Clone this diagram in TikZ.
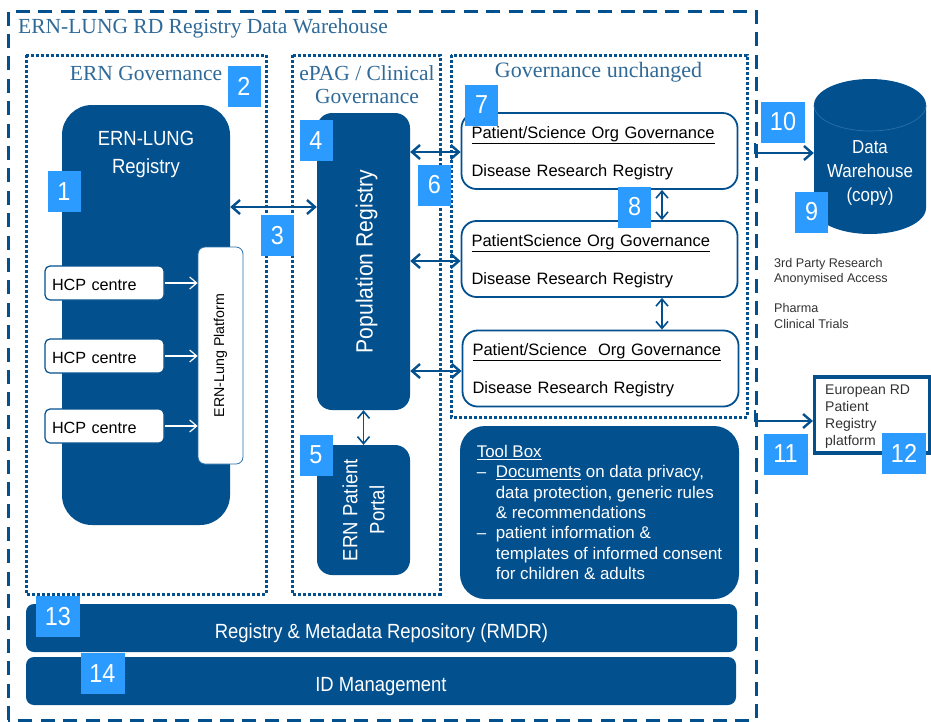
\documentclass[tikz,border=0pt]{standalone}
\usepackage{fontspec}
\setmainfont{Liberation Sans}
\newfontfamily\titlefont{Liberation Serif}
\newfontfamily\condfont[FakeStretch=0.9]{Liberation Sans}
\usepackage{tikz}
\usetikzlibrary{arrows.meta}
\definecolor{ernblue}{HTML}{03508F}
\definecolor{ernline}{HTML}{2A6FA8}
\definecolor{erntitle}{HTML}{2F6A98}
\definecolor{badgeblue}{HTML}{2B9BFF}
\definecolor{notegray}{HTML}{333333}
\tikzset{
  regbox/.style={fill=ernblue,text=white,inner sep=0pt,align=center},
  hcpbox/.style={draw=ernblue,line width=1.2pt,fill=white,rounded corners=5pt,minimum width=119pt,minimum height=34pt,inner sep=0pt,text width=105pt,execute at begin node=\rule{0pt}{15pt},font=\fontsize{16.2}{18}\selectfont},
  scibox/.style={draw=ernblue,line width=1.8pt,fill=white,rounded corners=15pt,minimum width=276pt,minimum height=76pt,inner sep=0pt,align=left,text width=256pt,execute at begin node=\rule{0pt}{16pt},font=\fontsize{16.5}{38}\selectfont},
  barbox/.style={regbox,rounded corners=8pt,minimum height=48pt,font=\condfont\fontsize{20.5}{22}\selectfont},
  badge/.style={fill=badgeblue,text=white,minimum width=33pt,minimum height=41pt,inner sep=0pt,font=\condfont\fontsize{26}{28}\selectfont},
  widebadge/.style={badge,minimum width=44pt},
  govtitle/.style={text=erntitle,inner sep=0pt,align=center,font=\titlefont\fontsize{21.5}{23}\selectfont},
  govframe/.style={draw=ernblue,line width=3pt,dash pattern=on 3pt off 2pt},
  linkarrow/.style={draw=ernblue,line width=2.4pt,{Straight Barb[length=8pt,width=14pt]}-{Straight Barb[length=8pt,width=14pt]}},
  thinarrow/.style={draw=ernblue,line width=1.6pt,{Straight Barb[length=7pt,width=12pt]}-{Straight Barb[length=7pt,width=12pt]}},
  outarrow/.style={draw=ernblue,line width=2.4pt,-{Straight Barb[length=8pt,width=14pt]}},
  hcparrow/.style={draw=white,line width=1.2pt,-{Straight Barb[length=7pt,width=12pt]}}
}
\begin{document}
\begin{tikzpicture}[x=1pt,y=-1pt]
\useasboundingbox (0,0) rectangle (931,721);
\fill[white] (0,0) rectangle (931,721);

\draw[ernblue,line width=3pt,dash pattern=on 14pt off 8.4pt] (8,720) -- (8,11) -- (756,11) -- (756,720) -- cycle;
\draw[govframe] (26,55) rectangle (266,594);
\draw[govframe] (292,55) rectangle (440,594);
\draw[govframe] (451,55) rectangle (747,417);

\node[govtitle,anchor=west] (warehousetitle) at (18,28) {ERN-LUNG RD Registry Data Warehouse};
\node[govtitle] (erngov) at (146,73) {ERN Governance};
\node[govtitle] (epaggov) at (367,84.5) {ePAG / Clinical\\Governance};
\node[govtitle,font=\titlefont\fontsize{22}{24}\selectfont] (ungov) at (598.5,72) {Governance unchanged};

\node[regbox,rounded corners=30pt,minimum width=168pt,minimum height=420pt] (ernlung) at (146,315) {};
\node[text=white,align=center,inner sep=0pt,font=\condfont\fontsize{20.5}{28}\selectfont] (ernlunglabel) at (146,154) {ERN-LUNG\\Registry};
\node[draw=ernline,line width=0.8pt,fill=white,rounded corners=7pt,minimum width=45pt,minimum height=217pt,inner sep=0pt] (platform) at (220.5,355.5) {\rotatebox{90}{\fontsize{14.2}{16}\selectfont ERN-Lung Platform}};
\node[hcpbox] (hcpa) at (104.5,283) {HCP centre};
\node[hcpbox] (hcpb) at (104.5,356) {HCP centre};
\node[hcpbox] (hcpc) at (104.5,426) {HCP centre};
\draw[hcparrow] (hcpa.east) -- (platform.west |- hcpa.east);
\draw[hcparrow] (hcpb.east) -- (platform.west |- hcpb.east);
\draw[hcparrow] (hcpc.east) -- (platform.west |- hcpc.east);

\node[regbox,rounded corners=15pt,minimum width=93pt,minimum height=297pt] (population) at (363.5,261.5) {\hspace*{6pt}\rotatebox{90}{\condfont\fontsize{23.5}{26}\selectfont Population Registry}};
\node[regbox,rounded corners=15pt,minimum width=93pt,minimum height=130pt] (portal) at (363.5,510) {\rotatebox{90}{\parbox{120pt}{\centering\condfont\fontsize{20.6}{27}\selectfont ERN Patient\\Portal}}};
\draw[thinarrow] (portal.north) -- (population.south);
\draw[linkarrow] (ernlung.east |- 0,207) -- (population.west |- 0,207);

\node[scibox] (scia) at (599.5,151) {\underline{Patient/Science Org Governance}\\Disease Research Registry};
\node[scibox] (scib) at (599.5,259) {\underline{PatientScience Org Governance}\\Disease Research Registry};
\node[scibox] (scic) at (600.5,368.5) {\underline{Patient/Science\ \ Org Governance}\\Disease Research Registry};
\draw[linkarrow] (population.east |- 0,152) -- (scia.west |- 0,152);
\draw[linkarrow] (population.east |- 0,261) -- (scib.west |- 0,261);
\draw[linkarrow] (population.east |- 0,371) -- (scic.west |- 0,371);
\draw[thinarrow] (662,0 |- scia.south) -- (662,0 |- scib.north);
\draw[thinarrow] (662,0 |- scib.south) -- (662,0 |- scic.north);

\node[regbox,rounded corners=25pt,minimum width=279pt,minimum height=173pt,align=left,execute at begin node=\rule{0pt}{16pt},font=\fontsize{16.9}{20.4}\selectfont] (toolbox) at (599.5,512.5) {\underline{Tool Box}\\
\makebox[19pt][l]{--}\underline{Documents} on data privacy,\\
\hspace*{19pt}data protection, generic rules\\
\hspace*{19pt}\& recommendations\\
\makebox[19pt][l]{--}patient information \&\\
\hspace*{19pt}templates of informed consent\hspace*{8pt}\\
\hspace*{19pt}for children \& adults};

\node[barbox,minimum width=711pt] (rmdr) at (381.5,628) {\smash{\raisebox{-10pt}{Registry \& Metadata Repository (RMDR)}}};
\node[barbox,minimum width=710pt] (idmgmt) at (381,681) {\smash{\raisebox{-10pt}{ID Management}}};

\node[minimum width=112pt,minimum height=155pt,inner sep=0pt] (warehouse) at (870,157) {};
\fill[ernblue] (814,105) arc[start angle=180,end angle=360,x radius=56,y radius=26] -- (926,208) arc[start angle=0,end angle=180,x radius=56,y radius=26] -- cycle;
\draw[ernline,line width=0.7pt] (814,105) arc[start angle=180,end angle=0,x radius=56,y radius=26];
\node[text=white,inner sep=0pt,align=center,font=\condfont\fontsize{18.8}{24}\selectfont] (warehouselabel) at (870,173) {Data\\Warehouse\\(copy)};
\coordinate (warehouseout) at (755,143);
\draw[outarrow] (warehouseout) |- (warehouse.west |- 0,153);

\node[text=notegray,anchor=north west,inner sep=0pt,align=left,font=\fontsize{12.6}{15.2}\selectfont] (notes) at (774,258) {3rd Party Research\\Anonymised Access\\[15.2pt]Pharma\\Clinical Trials};

\node[draw=ernblue,line width=3.2pt,fill=white,minimum width=115pt,minimum height=76pt,inner sep=0pt] (european) at (872,415) {};
\node[text=notegray,anchor=north west,inner sep=0pt,align=left,font=\fontsize{14}{17}\selectfont] (europeanlabel) at (825,385) {European RD\\Patient\\Registry\\platform};
\coordinate (europeanout) at (755,410);
\draw[outarrow] (europeanout) |- (european.west |- 0,421);

\node[badge] (numa) at (64,191.5) {1};
\node[badge] (numb) at (244,86.5) {2};
\node[badge] (numc) at (277.5,235.5) {3};
\node[badge] (numd) at (316,140.5) {4};
\node[badge] (nume) at (316,455) {5};
\node[badge] (numf) at (434.5,185) {6};
\node[badge] (numg) at (481.5,105) {7};
\node[badge] (numh) at (634.5,207) {8};
\node[badge] (numi) at (811.5,212) {9};
\node[widebadge] (numj) at (783,122) {10};
\node[widebadge] (numk) at (785.5,454) {11};
\node[widebadge] (numl) at (904,453) {12};
\node[widebadge] (numm) at (58,616.5) {13};
\node[widebadge] (numn) at (102.5,673.5) {14};
\end{tikzpicture}
\end{document}
